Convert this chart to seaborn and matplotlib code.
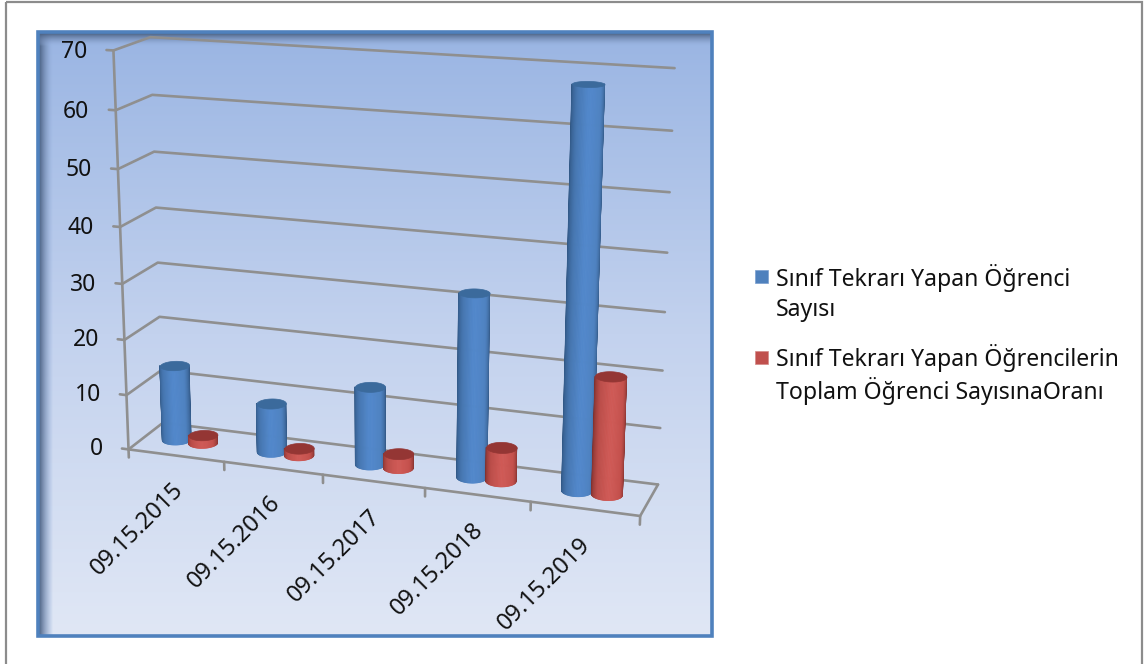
import numpy as np
import seaborn as sns
import matplotlib.pyplot as plt
from matplotlib.patches import Rectangle
from mpl_toolkits.mplot3d import proj3d
from mpl_toolkits.mplot3d.art3d import Poly3DCollection

dates = ["09.15.2015", "09.15.2016", "09.15.2017", "09.15.2018", "09.15.2019"]
tekrar_sayisi = [13.8, 8.9, 14, 32.3, 68]
tekrar_orani = [1.5, 1.3, 2.6, 6, 20.5]
z_ticks = [0, 10, 20, 30, 40, 50, 60, 70]

sns.set_theme(style="white")
plt.rcParams["font.family"] = ["Noto Sans", "DejaVu Sans"]

W, H = 1146, 664
fig = plt.figure(figsize=(W / 100, H / 100), dpi=100, facecolor="white")

# arka plan: pixel coordinates
bg = fig.add_axes([0, 0, 1, 1])
bg.set_xlim(0, W)
bg.set_ylim(H, 0)
bg.axis("off")
bg.add_patch(Rectangle((6, 2), 1136, 700, fill=False, ec="#8c8c8c", lw=1.6))

panel_cmap = sns.blend_palette(["#9ab5e3", "#c3d2ee", "#e0e7f5"], as_cmap=True)
grad = np.linspace(0, 1, 256).reshape(-1, 1)
bg.imshow(grad, cmap=panel_cmap, extent=(38, 712, 636, 32), aspect="auto", zorder=1)

shadow = sns.blend_palette(["#3f5575", "#9ab5e3"], as_cmap=True)
rgba = shadow(np.linspace(0, 1, 64))
rgba[:, 3] = np.linspace(1, 0, 64) ** 0.7
bg.imshow(rgba.reshape(1, -1, 4), extent=(38, 53, 636, 32), aspect="auto", zorder=2)
bg.imshow(rgba.reshape(-1, 1, 4), extent=(38, 712, 46, 32), aspect="auto", zorder=2)
bg.set_xlim(0, W)
bg.set_ylim(H, 0)
bg.add_patch(Rectangle((38, 32), 674, 604, fill=False, ec="#4f81bd", lw=2.6, zorder=3))

# legend
bg.add_patch(Rectangle((755, 270), 13, 13, fc="#4f81bd", ec="#7a9fd0", lw=0.5, zorder=3))
bg.add_patch(Rectangle((755, 351), 13, 13, fc="#c0504d", ec="#d48a88", lw=0.5, zorder=3))
leg_kw = dict(fontsize=16.6, color="#111111", va="center", ha="left", zorder=3)
bg.text(776, 278, "Sınıf Tekrarı Yapan Öğrenci", **leg_kw)
bg.text(776, 310, "Sayısı", **leg_kw)
bg.text(776, 358, "Sınıf Tekrarı Yapan Öğrencilerin", **leg_kw)
bg.text(776, 391, "Toplam Öğrenci SayısınaOranı", **leg_kw)

# 3d chart
side = 760
cx_px, cy_px = 377, 279
ax = fig.add_axes([(cx_px - side / 2) / W, 1 - (cy_px + side / 2) / H, side / W, side / H],
                  projection="3d", computed_zorder=False)
ax.patch.set_alpha(0)
ax.set_axis_off()
ax.set_xlim(0, 5)
ax.set_ylim(0, 1)
ax.set_zlim(0, 70)
DEPTH = 80
ax.set_box_aspect((515, DEPTH, 399), zoom=0.89)
ELEV, AZIM = 16, -71
ax.view_init(elev=ELEV, azim=AZIM)
ax.set_proj_type("persp", focal_length=0.49)

grid_c = "#8f8f8f"
line_kw = dict(color=grid_c, lw=1.9, zorder=1, solid_capstyle="round")
for z in z_ticks:
    ax.plot([-0.07, 0, 0, 5.0], [0, 0, 1, 1], [z, z, z, z], **line_kw)
    ax.text(-0.27, 0, z - 0.6, str(z), ha="right", va="center", fontsize=16.5, color="#111111", zorder=1)
ax.plot([0, 0], [0, 0], [-1.5, 70], **line_kw)
ax.plot([0, 5, 5], [0, 0, 1], [0, 0, 0], **line_kw)
for i in range(1, 6):
    ax.plot([i, i], [0, 0], [0, -1.5], **line_kw)
proj = ax.get_proj()
for i, d in enumerate(dates):
    px, py, _ = proj3d.proj_transform(i + 0.45, 0, -4.3, proj)
    ax.text2D(px, py, d, transform=ax.transData, rotation=45, rotation_mode="anchor",
              ha="right", va="top", fontsize=17, color="#111111", zorder=2)

blue_body = sns.blend_palette(["#2f5480", "#4676b0", "#5288cc", "#4f82c0", "#2f5480"], as_cmap=True)
red_body = sns.blend_palette(["#7a2e2c", "#bb4d49", "#d05a56", "#c4514d", "#7a2e2c"], as_cmap=True)


def cylinder(cx, h, cmap, top_color, zo):
    # y radius is scaled because the depth axis is shorter than the x axis
    rx, ry = 0.14, 0.14 * 104 / DEPTH
    az = np.radians(AZIM)
    # only the half facing the camera, the cap hides the rest
    t = np.linspace(az - np.pi / 2, az + np.pi / 2, 41)
    X = cx + rx * np.outer(np.cos(t), [1, 1])
    Y = 0.5 + ry * np.outer(np.sin(t), [1, 1])
    Z = np.outer(np.ones_like(t), [0, h])
    mid = (t[:-1] + t[1:]) / 2
    fc = cmap((mid - t[0]) / (t[-1] - t[0]))
    ax.plot_surface(X, Y, Z, facecolors=fc.reshape(-1, 1, 4), rcount=41, ccount=2, shade=False,
                    linewidth=0.6, antialiased=True, zorder=zo)
    ring = np.linspace(0, 2 * np.pi, 61)
    cap = list(zip(cx + rx * np.cos(ring), 0.5 + ry * np.sin(ring), np.full_like(ring, h)))
    ax.add_collection3d(Poly3DCollection([cap], facecolor=top_color, edgecolor=top_color,
                                         linewidth=0.5, zorder=zo + 0.5))


for i in range(5):
    cylinder(i + 0.33, tekrar_sayisi[i], blue_body, "#3b6a9c", 5 + 2 * i)
    cylinder(i + 0.61, tekrar_orani[i], red_body, "#943634", 6 + 2 * i)

fig.savefig("out.png", dpi=100)
